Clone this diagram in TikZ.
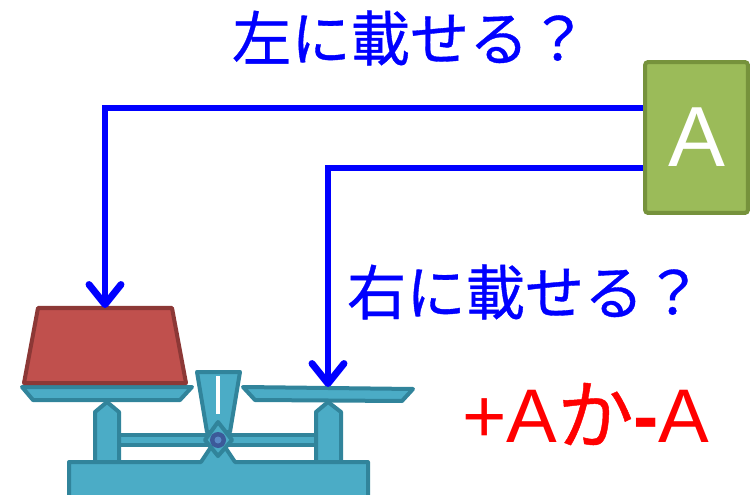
\documentclass[tikz,border=0pt]{standalone}
\usepackage{fontspec}
\setmainfont{Liberation Sans}
\newfontfamily\jp[FakeBold=0.6]{Noto Sans CJK JP}
\usepackage{xcolor}
\usepackage{tikz}
\usetikzlibrary{arrows.meta}
\definecolor{flow}{HTML}{0000FF}
\definecolor{warn}{HTML}{FF0000}
\definecolor{teal}{HTML}{4BACC6}
\definecolor{tealdark}{HTML}{31849B}
\definecolor{brick}{HTML}{C0504D}
\definecolor{brickdark}{HTML}{8C3836}
\definecolor{leaf}{HTML}{9BBB59}
\definecolor{leafdark}{HTML}{76923C}
\definecolor{pivot}{HTML}{3C5A99}
\definecolor{pivotin}{HTML}{5A8AC6}
\tikzset{
  arr/.style={draw=flow, line width=5.2pt,
    -{Straight Barb[length=15pt, width=24pt, round]}},
  part/.style={fill=teal, draw=tealdark, line width=3pt, line join=round},
  wgt/.style={fill=brick, draw=brickdark, line width=3pt, line join=round},
  boxA/.style={fill=leaf, draw=leafdark, line width=3pt, rounded corners=2pt,
    minimum width=77pt, minimum height=113pt, inner sep=0pt,
    text=white, font=\fontsize{64}{64}\selectfont},
  lab/.style={text=flow, font=\jp\fontsize{44.5}{44.5}\selectfont, inner sep=0pt},
  labr/.style={text=warn, font=\fontsize{57}{57}\selectfont, inner sep=0pt}
}

\begin{document}
\begin{tikzpicture}[x=0.75pt, y=-0.75pt]
  \clip (0,0) rectangle (753,495);

  % the thing to be weighed
  \node[boxA] (boxA) at (696.5,137.5) {A};

  % balance: beam, posts, base
  \draw[part] (112,435) rectangle (322,445);
  \draw[part] (95,470) -- (95,412) -- (107,402) -- (119,412) -- (119,470) -- cycle;
  \draw[part] (316,470) -- (316,412) -- (328,402) -- (341,412) -- (341,470) -- cycle;
  \draw[part] (69,462) -- (201,462) -- (211,447) -- (225,447) -- (235,462)
    -- (368,462) -- (368,510) -- (69,510) -- cycle;
  \draw[part] (197,372) -- (240,372) -- (230,432) -- (207,432) -- cycle;
  \draw[white, line width=3pt] (218,376) -- (218,414);
  \draw[part] (205,440) -- (218,422) -- (232,440) -- (218,456) -- cycle;
  \fill[pivot] (218,440) circle (8);
  \fill[pivotin] (218,440) circle (3.5);

  % pans and the weight on the left one
  \draw[part] (22,387) -- (192,387) -- (180,400) -- (33,400) -- cycle;
  \draw[part] (243,387) -- (413,389) -- (402,401) -- (255,400) -- cycle;
  \draw[wgt] (38,308) -- (172,308) -- (186,383) -- (24,383) -- cycle;

  \coordinate (leftTop) at (105,308);
  \coordinate (rightTop) at (328,387);

  \draw[arr] (boxA.west |- 0,108) -| (leftTop);
  \draw[arr] (boxA.west |- 0,168) -| (rightTop);

  \node[lab] (qLeft) at (410,38) {左に載せる？};
  \node[lab] (qRight) at (525,292) {右に載せる？};
  \node[labr] (sign) at (586,414) {+A{\jp か}{\bfseries -}A};
\end{tikzpicture}
\end{document}
